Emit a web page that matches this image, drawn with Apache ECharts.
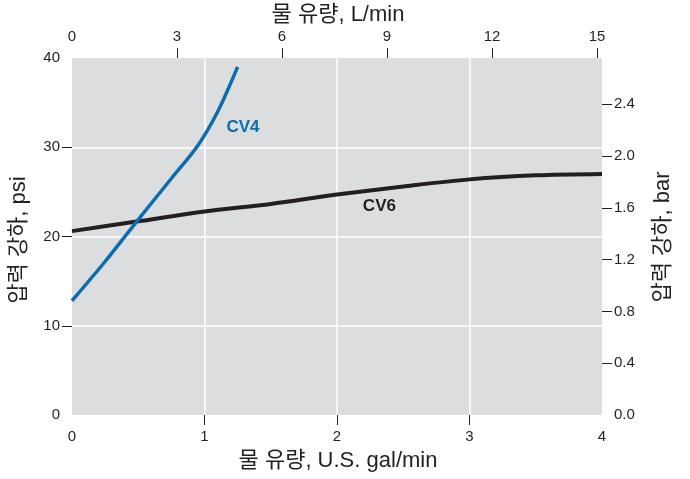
<!DOCTYPE html>
<html>
<head>
<meta charset="utf-8">
<script src="https://cdn.jsdelivr.net/npm/echarts@6/dist/echarts.min.js"></script>
<style>html,body{margin:0;padding:0;background:#fff}#c{width:690px;height:479px}</style>
</head>
<body>
<div id="c"></div>
<script>
// Data (x: U.S. gal/min, y: psi)
const cv4Flow = [0, 0.25, 0.5, 0.75, 0.95, 1.1, 1.25];
const cv4Psi  = [12.8, 17.2, 21.9, 26.5, 30.2, 34.0, 39.0];
const cv6Flow = [0, 0.5, 1.0, 1.5, 2.0, 2.5, 3.0, 3.5, 4.0];
const cv6Psi  = [20.6, 21.7, 22.8, 23.65, 24.7, 25.6, 26.4, 26.85, 27.0];
const bottomTicks = [0, 1, 2, 3, 4];
const topTicks = [0, 3, 6, 9, 12, 15];
const leftTicks = [0, 10, 20, 30, 40];
const rightTicks = [0, 0.4, 0.8, 1.2, 1.6, 2.0, 2.4];
const labelCV4 = {name: 'CV4', coord: [1.29, 32.2]};
const labelCV6 = {name: 'CV6', coord: [2.32, 23.35]};
const GAL_TO_L = 3.78541;
const PSI_TO_BAR = 0.0689476;

const FONT = "'Liberation Sans', Arial, 'Noto Sans CJK KR', sans-serif";
const TXT = '#231f20';
const zip = (a, b) => a.map((v, i) => [v, b[i]]);

const chart = echarts.init(document.getElementById('c'));
const axisLabelBase = {color: TXT, fontSize: 15, fontFamily: FONT};
const tickStyle = {color: TXT, width: 1};
chart.setOption({
  animation: false,
  grid: {left: 72, right: 88, top: 58, bottom: 64, show: true, backgroundColor: '#dcdddf', borderWidth: 0},
  xAxis: [{
    type: 'value', min: 0, max: 4, interval: 1, position: 'bottom',
    axisLine: {show: false, onZero: false},
    axisTick: {show: true, length: 10, lineStyle: tickStyle, customValues: [1, 2, 3]},
    axisLabel: Object.assign({margin: 14, customValues: bottomTicks}, axisLabelBase),
    splitLine: {show: true, lineStyle: {color: '#ffffff', width: 1.5}}
  }, {
    type: 'value', min: 0, max: 4 * GAL_TO_L, interval: 3, position: 'top',
    axisLine: {show: false, onZero: false},
    axisTick: {show: true, length: 10, lineStyle: tickStyle, customValues: [3, 6, 9, 12, 15]},
    axisLabel: Object.assign({margin: 14, customValues: topTicks}, axisLabelBase),
    splitLine: {show: false}
  }],
  yAxis: [{
    type: 'value', min: 0, max: 40, interval: 10, position: 'left',
    axisLine: {show: false, onZero: false},
    axisTick: {show: true, length: 10, lineStyle: tickStyle, customValues: [10, 20, 30]},
    axisLabel: Object.assign({margin: 12, customValues: leftTicks}, axisLabelBase),
    splitLine: {show: true, lineStyle: {color: '#ffffff', width: 1.5}}
  }, {
    type: 'value', min: 0, max: 40 * PSI_TO_BAR, interval: 0.4, position: 'right',
    axisLine: {show: false, onZero: false},
    axisTick: {show: true, length: 10, lineStyle: tickStyle, customValues: [0.4, 0.8, 1.2, 1.6, 2.0, 2.4]},
    axisLabel: Object.assign({margin: 12, customValues: rightTicks, formatter: v => v.toFixed(1)}, axisLabelBase),
    splitLine: {show: false}
  }],
  series: [{
    name: 'CV6', type: 'line', xAxisIndex: 0, yAxisIndex: 0,
    data: zip(cv6Flow, cv6Psi), smooth: 0.3, showSymbol: false,
    lineStyle: {color: '#231f20', width: 4},
    markPoint: {symbol: 'circle', symbolSize: 0, data: [labelCV6],
      label: {show: true, position: 'inside', formatter: '{b}', color: '#231f20', fontSize: 17, fontWeight: 'bold', fontFamily: FONT}}
  }, {
    name: 'CV4', type: 'line', xAxisIndex: 0, yAxisIndex: 0,
    data: zip(cv4Flow, cv4Psi), smooth: 0.3, showSymbol: false,
    lineStyle: {color: '#0b6db0', width: 3.5},
    markPoint: {symbol: 'circle', symbolSize: 0, data: [labelCV4],
      label: {show: true, position: 'inside', formatter: '{b}', color: '#0b6db0', fontSize: 17, fontWeight: 'bold', fontFamily: FONT}}
  }],
  graphic: [
    {type: 'text', x: 338, y: 15, style: {text: '물 유량, L/min', fill: TXT, font: "22px " + FONT, textAlign: 'center', textVerticalAlign: 'middle'}},
    {type: 'text', x: 338, y: 461, style: {text: '물 유량, U.S. gal/min', fill: TXT, font: "22px " + FONT, textAlign: 'center', textVerticalAlign: 'middle'}},
    {type: 'text', x: 19, y: 240, rotation: Math.PI / 2, style: {text: '압력 강하, psi', fill: TXT, font: "22px " + FONT, textAlign: 'center', textVerticalAlign: 'middle'}},
    {type: 'text', x: 663, y: 237, rotation: Math.PI / 2, style: {text: '압력 강하, bar', fill: TXT, font: "22px " + FONT, textAlign: 'center', textVerticalAlign: 'middle'}}
  ]
});
</script>
</body>
</html>
